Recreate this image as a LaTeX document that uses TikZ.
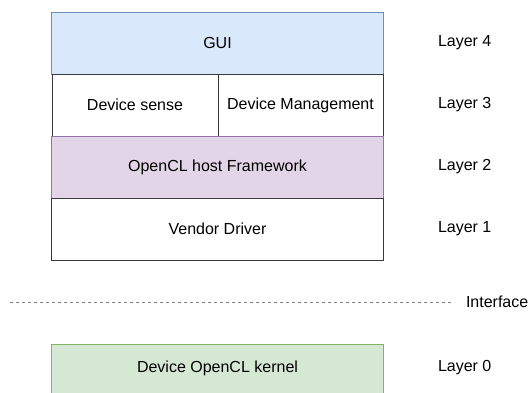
\documentclass[tikz,border=0pt]{standalone}
\usepackage{fontspec}
\setmainfont{Liberation Sans}
\definecolor{guifill}{HTML}{DAE8FC}
\definecolor{guiline}{HTML}{6C8EBF}
\definecolor{hostfill}{HTML}{E1D5E7}
\definecolor{hostline}{HTML}{9673A6}
\definecolor{kernfill}{HTML}{D5E8D4}
\definecolor{kernline}{HTML}{82B366}
\definecolor{plainline}{HTML}{36393D}
\begin{document}
\begin{tikzpicture}[x=1bp,y=-1bp,
  every node/.style={font=\fontsize{16bp}{19bp}\selectfont, inner sep=0pt, outer sep=0pt},
  layerbox/.style={draw=plainline, fill=white, line width=1bp, minimum height=62bp},
  layerlabel/.style={anchor=west},
  sepline/.style={draw=gray, line width=1bp, dash pattern=on 3bp off 3bp}]
  \useasboundingbox (0,0) rectangle (528,392);
  \clip (0,0) rectangle (528,392);

  % host-side stack
  \node[layerbox, fill=guifill, draw=guiline, minimum width=331bp] (gui) at (217.5,43) {GUI};
  \node[layerbox, minimum width=166bp] (sense) at (135,105) {Device sense};
  \node[layerbox, minimum width=165bp] (mgmt) at (300.5,105) {Device Management};
  \node[layerbox, fill=hostfill, draw=hostline, minimum width=331bp] (host) at (217.5,167) {OpenCL host Framework};
  \node[layerbox, minimum width=331bp] (vendor) at (217.5,229) {Vendor Driver};

  % device side
  \node[layerbox, fill=kernfill, draw=kernline, minimum width=331bp, minimum height=62bp, anchor=north] (kbox) at (217.5,344) {};
  \node (kernel) at (217.5,368) {Device OpenCL kernel};

  % layer numbers
  \node[layerlabel] (l4) at (438,43) {Layer 4};
  \node[layerlabel] (l3) at (438,105) {Layer 3};
  \node[layerlabel] (l2) at (438,167) {Layer 2};
  \node[layerlabel] (l1) at (438,229) {Layer 1};
  \node[layerlabel] (l0) at (438,368) {Layer 0};

  % host/device boundary
  \coordinate (sepL) at (10,302);
  \coordinate (sepR) at (453,302);
  \draw[sepline] (sepL) -- (sepR);
  \node[anchor=west] (iface) at (466,302) {Interface};
\end{tikzpicture}
\end{document}
